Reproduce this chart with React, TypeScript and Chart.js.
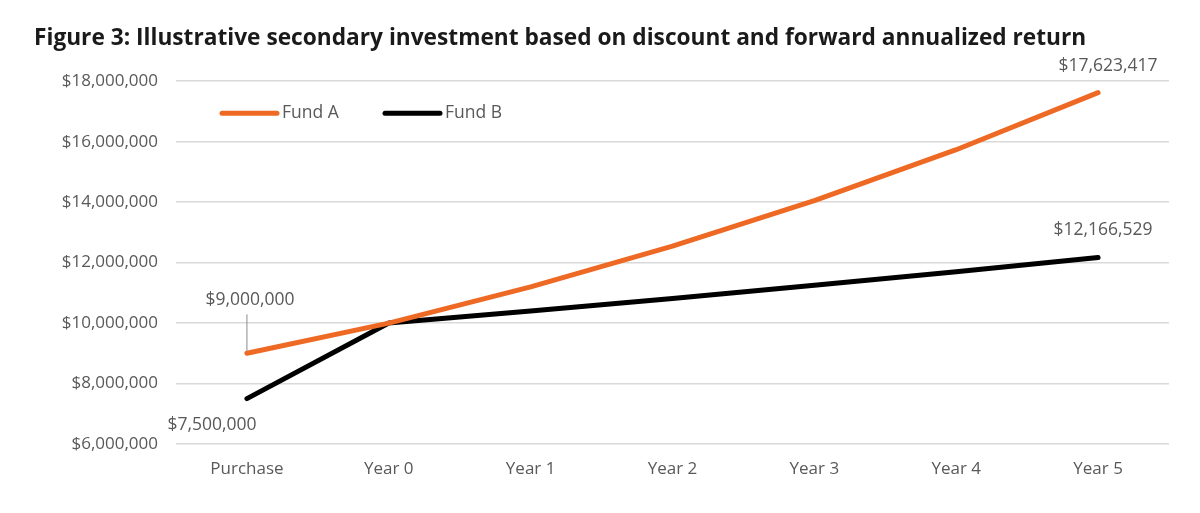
import React, { useEffect, useRef } from "react";
import { Chart, registerables } from "chart.js";

Chart.register(...registerables);

const categories = ["Purchase", "Year 0", "Year 1", "Year 2", "Year 3", "Year 4", "Year 5"];
const fundA = [9000000, 10000000, 11200000, 12544000, 14049280, 15735194, 17623417];
const fundB = [7500000, 10000000, 10400000, 10816000, 11248640, 11698586, 12166529];
const yTicks = [6000000, 8000000, 10000000, 12000000, 14000000, 16000000, 18000000];
const titleText = "Figure 3: Illustrative secondary investment based on discount and forward annualized return";

const ORANGE = "#EE6A24";
const BLACK = "#000000";
const GRAY_TEXT = "#595959";
const FONT = "'Open Sans', sans-serif";

const fmt = (v: number) => "$" + Math.round(v).toLocaleString("en-US");

// labelled points: dataset index, point index, offset of label centre, leader line
const pointLabels = [
  { ds: 0, i: 0, dx: 3, dy: -53, leader: true },
  { ds: 1, i: 0, dx: -35, dy: 26, leader: false },
  { ds: 0, i: 6, dx: 10, dy: -27, leader: false },
  { ds: 1, i: 6, dx: 5, dy: -28, leader: false },
];

const labelPlugin = {
  id: "pointLabels",
  afterDatasetsDraw(chart: any) {
    const ctx = chart.ctx;
    ctx.save();
    ctx.font = `17.5px ${FONT}`;
    ctx.fillStyle = GRAY_TEXT;
    ctx.textAlign = "center";
    ctx.textBaseline = "middle";
    pointLabels.forEach((p) => {
      const meta = chart.getDatasetMeta(p.ds);
      const el = meta.data[p.i];
      const v = chart.data.datasets[p.ds].data[p.i] as number;
      const x = el.x + p.dx;
      const y = el.y + p.dy;
      ctx.fillText(fmt(v), x, y);
      if (p.leader) {
        ctx.strokeStyle = "#8c8c8c";
        ctx.lineWidth = 1;
        ctx.beginPath();
        ctx.moveTo(el.x, y + 14);
        ctx.lineTo(el.x, el.y - 2);
        ctx.stroke();
      }
    });
    ctx.restore();
  },
};

const legendPlugin = {
  id: "innerLegend",
  afterDraw(chart: any) {
    const ctx = chart.ctx;
    const area = chart.chartArea;
    ctx.save();
    ctx.font = `17.5px ${FONT}`;
    ctx.textBaseline = "middle";
    ctx.textAlign = "left";
    let x = area.left + 46;
    const y = area.top + 32;
    chart.data.datasets.forEach((ds: any) => {
      ctx.strokeStyle = ds.borderColor;
      ctx.lineWidth = 5;
      ctx.lineCap = "round";
      ctx.beginPath();
      ctx.moveTo(x, y);
      ctx.lineTo(x + 55, y);
      ctx.stroke();
      ctx.fillStyle = GRAY_TEXT;
      ctx.fillText(ds.label, x + 60, y);
      x += 163;
    });
    ctx.restore();
  },
};

export default function App() {
  const ref = useRef<HTMLCanvasElement | null>(null);
  useEffect(() => {
    document.body.style.margin = "0";
    if (!ref.current) return;
    const chart = new Chart(ref.current, {
      type: "line",
      data: {
        labels: categories,
        datasets: [
          {
            label: "Fund A",
            data: fundA,
            borderColor: ORANGE,
            backgroundColor: ORANGE,
            borderWidth: 5,
            pointRadius: 0,
            tension: 0,
            borderCapStyle: "round",
            borderJoinStyle: "round",
          },
          {
            label: "Fund B",
            data: fundB,
            borderColor: BLACK,
            backgroundColor: BLACK,
            borderWidth: 5,
            pointRadius: 0,
            tension: 0,
            borderCapStyle: "round",
            borderJoinStyle: "round",
          },
        ],
      },
      options: {
        responsive: false,
        animation: false,
        layout: { padding: { left: 34, right: 31, top: 0, bottom: 0 } },
        plugins: {
          legend: { display: false },
          tooltip: { enabled: false },
          title: {
            display: true,
            text: titleText,
            align: "start",
            color: "#1a1a1a",
            font: { family: FONT, size: 22.7, weight: "bold", lineHeight: 1.2 },
            padding: { top: 25, bottom: 29 },
          },
        },
        scales: {
          x: {
            offset: true,
            grid: { display: false, drawTicks: false },
            border: { display: false },
            ticks: { color: GRAY_TEXT, font: { family: FONT, size: 17 }, padding: 15, maxRotation: 0 },
            afterFit: (s: any) => {
              s.height = 69;
            },
          },
          y: {
            min: yTicks[0],
            max: yTicks[yTicks.length - 1],
            afterBuildTicks: (s: any) => {
              s.ticks = yTicks.map((v) => ({ value: v }));
            },
            grid: { color: "#d9d9d9", lineWidth: 1.5, drawTicks: false },
            border: { display: false },
            ticks: {
              color: GRAY_TEXT,
              font: { family: FONT, size: 17 },
              padding: 18,
              callback: (v: any) => fmt(Number(v)),
            },
            afterFit: (s: any) => {
              s.width = 142;
            },
          },
        },
      },
      plugins: [labelPlugin, legendPlugin],
    });
    return () => chart.destroy();
  }, []);
  return <canvas ref={ref} width={1200} height={513} style={{ display: "block" }} />;
}
